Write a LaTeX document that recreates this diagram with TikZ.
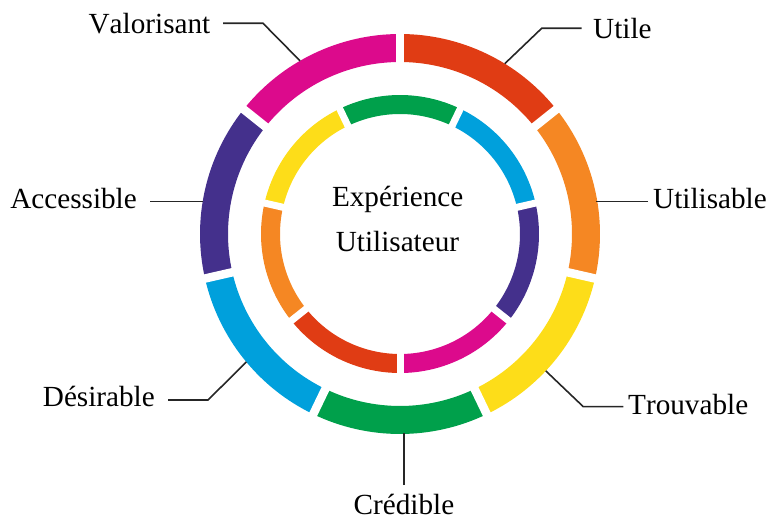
\documentclass[tikz,border=0pt]{standalone}
\usepackage{fontspec}
\setmainfont[Kerning=Off]{Liberation Serif}
\usetikzlibrary{calc}
\definecolor{cMag}{HTML}{DC0A8C}
\definecolor{cPur}{HTML}{44308C}
\definecolor{cBlu}{HTML}{00A0DC}
\definecolor{cGrn}{HTML}{00A04B}
\definecolor{cYel}{HTML}{FDDD19}
\definecolor{cOra}{HTML}{F58723}
\definecolor{cRed}{HTML}{E03C14}
\begin{document}
\begin{tikzpicture}[x=1pt,y=1pt,
  lbl/.style={inner sep=0pt, font=\fontsize{29.2}{35}\selectfont, text=black},
  lead/.style={line width=1.6pt, black!85, line join=miter},
  gapline/.style={white, line width=#1}]
\useasboundingbox (0,0) rectangle (769,520);
\coordinate (c) at (400,286);
% outer ring
\foreach \a/\col in {90/cMag,141.43/cPur,192.86/cBlu,244.29/cGrn,295.71/cYel,347.14/cOra,398.57/cRed}
  \fill[\col, shift={(c)}] (\a:200) arc[start angle=\a, delta angle=51.43, radius=200]
     -- ({\a+51.43}:172) arc[start angle={\a+51.43}, delta angle=-51.43, radius=172] -- cycle;
\foreach \a in {90,141.43,192.86,244.29,295.71,347.14,398.57}
  \draw[gapline=8.5pt, shift={(c)}] (\a:168) -- (\a:204);
% inner ring
\foreach \a/\col in {270/cMag,321.43/cPur,372.86/cBlu,424.29/cGrn,475.71/cYel,527.14/cOra,578.57/cRed}
  \fill[\col, shift={(c)}] (\a:139) arc[start angle=\a, delta angle=51.43, radius=139]
     -- ({\a+51.43}:120) arc[start angle={\a+51.43}, delta angle=-51.43, radius=120] -- cycle;
\foreach \a in {270,321.43,372.86,424.29,475.71,527.14,578.57}
  \draw[gapline=7pt, shift={(c)}] (\a:117) -- (\a:142);
% centre text
\node[lbl, anchor=base] (t1) at (397.7,313.3) {Expérience};
\node[lbl, anchor=base] (t2) at (397.5,268.3) {Utilisateur};
% labels
\node[lbl, anchor=base east] (lV) at (210.5,486.7) {Valorisant};
\node[lbl, anchor=base west] (lU) at (593,481.7) {Utile};
\node[lbl, anchor=base west] (lUs) at (653,311.7) {Utilisable};
\node[lbl, anchor=base east] (lA) at (137,311.7) {Accessible};
\node[lbl, anchor=base east] (lD) at (155,113.3) {Désirable};
\node[lbl, anchor=base west] (lT) at (628,105) {Trouvable};
\node[lbl, anchor=base] (lC) at (404,6) {Crédible};
% ring points
\coordinate (rV) at ($(c)+(120:200)$);
\coordinate (rU) at ($(c)+(58.4:200)$);
\coordinate (rUs) at ($(c)+(9.3:199)$);
\coordinate (rA) at ($(c)+(170.7:200)$);
\coordinate (rD) at ($(c)+(-140.2:200)$);
\coordinate (rT) at ($(c)+(-43.2:200)$);
\coordinate (rC) at (404,87);
% leader ends
\coordinate (eV) at (223,496.7);  \coordinate (bV) at (263,496.7);
\coordinate (eU) at (581.7,491.7); \coordinate (bU) at (541.7,491.7);
\coordinate (eUs) at (648,318.3);
\coordinate (eA) at (150,318.3);
\coordinate (eD) at (168,120);   \coordinate (bD) at (208,120);
\coordinate (eT) at (623.3,113.3); \coordinate (bT) at (583.3,113.3);
\coordinate (eC) at (404,35);
\draw[lead] (eV) -- (bV) -- (rV);
\draw[lead] (eU) -- (bU) -- (rU);
\draw[lead] (eUs) -- (eUs -| rUs);
\draw[lead] (eA) -- (eA -| rA);
\draw[lead] (eD) -- (bD) -- (rD);
\draw[lead] (eT) -- (bT) -- (rT);
\draw[lead] (eC) -- (rC);
\end{tikzpicture}
\end{document}
